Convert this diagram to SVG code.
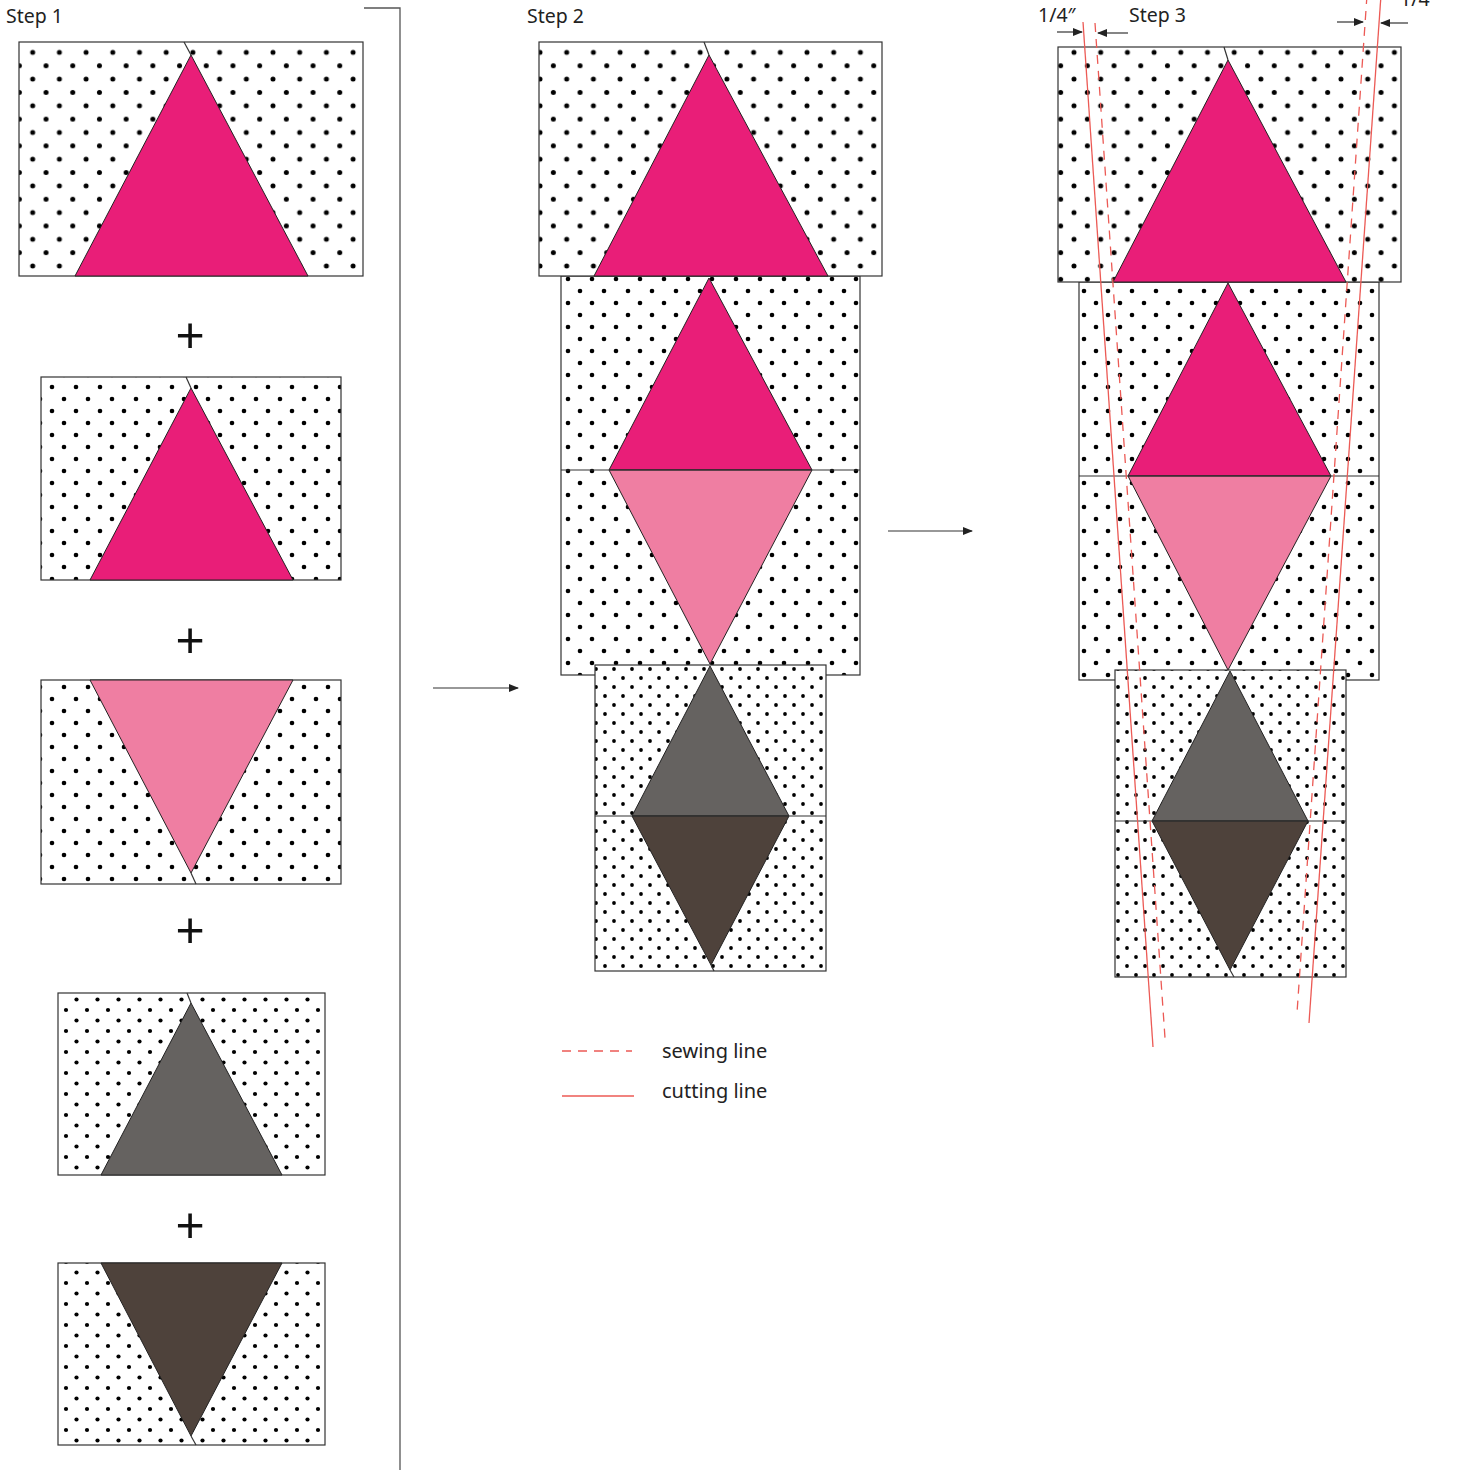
<svg xmlns="http://www.w3.org/2000/svg" width="1459" height="1470" viewBox="0 0 1459 1470">
<style>
text{font-family:"Noto Sans","Open Sans","Liberation Sans",sans-serif;fill:#222}
.lbl{font-size:19.5px}
.leg{font-size:20px}
.plus{font-family:"Liberation Sans",sans-serif;font-size:50px;text-anchor:middle;fill:#111}
.blk{stroke:#333;stroke-width:1.2}
.tri{stroke:#222;stroke-width:1}
.pk{fill:#e91e78}
.lp{fill:#ef7ea2}
.gy{fill:#656260}
.br{fill:#4e423b}
.seam{stroke:#333;stroke-width:1.2;fill:none}
.cut{stroke:#ec5a55;stroke-width:1.3;fill:none}
.sew{stroke:#ec5a55;stroke-width:1.3;fill:none;stroke-dasharray:9,7}
.arr{stroke:#333;stroke-width:1.2;fill:none}
</style>
<defs>
<pattern id="d27" patternUnits="userSpaceOnUse" width="26.7" height="26.7" x="6" y="-1"><rect width="26.7" height="26.7" fill="#fff"/><circle cx="13.35" cy="13.35" r="2.5" fill="#000"/><circle cx="0" cy="0" r="2.5" fill="#000"/><circle cx="26.7" cy="0" r="2.5" fill="#000"/><circle cx="0" cy="26.7" r="2.5" fill="#000"/><circle cx="26.7" cy="26.7" r="2.5" fill="#000"/></pattern>
<pattern id="d24" patternUnits="userSpaceOnUse" width="24" height="24" x="4" y="3"><rect width="24" height="24" fill="#fff"/><circle cx="12" cy="12" r="2.3" fill="#000"/><circle cx="0" cy="0" r="2.3" fill="#000"/><circle cx="24" cy="0" r="2.3" fill="#000"/><circle cx="0" cy="24" r="2.3" fill="#000"/><circle cx="24" cy="24" r="2.3" fill="#000"/></pattern>
<pattern id="d21" patternUnits="userSpaceOnUse" width="21" height="21" x="3" y="2"><rect width="21" height="21" fill="#fff"/><circle cx="10.5" cy="10.5" r="2.1" fill="#000"/><circle cx="0" cy="0" r="2.1" fill="#000"/><circle cx="21" cy="0" r="2.1" fill="#000"/><circle cx="0" cy="21" r="2.1" fill="#000"/><circle cx="21" cy="21" r="2.1" fill="#000"/></pattern>
<pattern id="d18" patternUnits="userSpaceOnUse" width="18" height="18" x="2" y="3"><rect width="18" height="18" fill="#fff"/><circle cx="9" cy="9" r="1.9" fill="#000"/><circle cx="0" cy="0" r="1.9" fill="#000"/><circle cx="18" cy="0" r="1.9" fill="#000"/><circle cx="0" cy="18" r="1.9" fill="#000"/><circle cx="18" cy="18" r="1.9" fill="#000"/></pattern>
<marker id="ah" markerWidth="10" markerHeight="8" refX="9" refY="4" orient="auto" markerUnits="userSpaceOnUse"><path d="M0,0 L10,4 L0,8 Z" fill="#222"/></marker>
</defs>

<g id="labels">
<text class="lbl" x="6" y="23">Step 1</text>
<text class="lbl" x="527" y="23">Step 2</text>
<text class="lbl" x="1129" y="22">Step 3</text>
<text class="lbl" x="1038" y="22">1/4″</text>
<text class="lbl" x="1400" y="6">1/4</text>
</g>

<g id="divider"><path d="M364,8 H400 V1470" stroke="#555" stroke-width="1.3" fill="none"/></g>

<!-- STEP 1 -->
<g id="s1-a">
<rect class="blk" x="19" y="42" width="344" height="234" fill="url(#d27)"/>
<polygon class="tri pk" points="191,55 75,276 308,276"/>
<line class="seam" x1="184" y1="42" x2="191" y2="55"/>
</g>
<g id="s1-plus1"><text class="plus" x="190" y="352">+</text></g>
<g id="s1-b">
<rect class="blk" x="41" y="377" width="300" height="203" fill="url(#d24)"/>
<polygon class="tri pk" points="191,388 90,580 293,580"/>
<line class="seam" x1="186" y1="377" x2="191" y2="388"/>
</g>
<g id="s1-plus2"><text class="plus" x="190" y="657">+</text></g>
<g id="s1-c">
<rect class="blk" x="41" y="680" width="300" height="204" fill="url(#d24)"/>
<polygon class="tri lp" points="90,680 293,680 191,873"/>
<line class="seam" x1="191" y1="873" x2="196" y2="884"/>
</g>
<g id="s1-plus3"><text class="plus" x="190" y="947">+</text></g>
<g id="s1-d">
<rect class="blk" x="58" y="993" width="267" height="182" fill="url(#d21)"/>
<polygon class="tri gy" points="191,1003 101,1175 282,1175"/>
<line class="seam" x1="187" y1="993" x2="191" y2="1003"/>
</g>
<g id="s1-plus4"><text class="plus" x="190" y="1242">+</text></g>
<g id="s1-e">
<rect class="blk" x="58" y="1263" width="267" height="182" fill="url(#d21)"/>
<polygon class="tri br" points="101,1263 282,1263 191,1436"/>
<line class="seam" x1="191" y1="1436" x2="196" y2="1445"/>
</g>

<!-- STEP 2 -->
<g id="s2-mid">
<rect class="blk" x="561" y="276" width="299" height="399" fill="url(#d24)"/>
<polygon class="tri pk" points="709,278 609,470 812,470"/>
<polygon class="tri lp" points="609,470 812,470 710,664"/>
<line class="seam" x1="561" y1="470" x2="860" y2="470"/>
</g>
<g id="s2-top">
<rect class="blk" x="539" y="42" width="343" height="234" fill="url(#d27)"/>
<polygon class="tri pk" points="709,55 594,276 828,276"/>
<line class="seam" x1="704" y1="42" x2="709" y2="55"/>
</g>
<g id="s2-bot">
<rect class="blk" x="595" y="665" width="231" height="306" fill="url(#d18)"/>
<polygon class="tri gy" points="710,666 632,816 789,816"/>
<polygon class="tri br" points="632,816 789,816 711,965"/>
<line class="seam" x1="595" y1="816" x2="826" y2="816"/>
<line class="seam" x1="711" y1="965" x2="714" y2="971"/>
</g>

<!-- STEP 3 -->
<g id="s3-mid">
<rect class="blk" x="1079" y="282" width="300" height="398" fill="url(#d24)"/>
<polygon class="tri pk" points="1228,283 1128,476 1331,476"/>
<polygon class="tri lp" points="1128,476 1331,476 1228,670"/>
<line class="seam" x1="1079" y1="476" x2="1379" y2="476"/>
</g>
<g id="s3-top">
<rect class="blk" x="1058" y="47" width="343" height="235" fill="url(#d27)"/>
<polygon class="tri pk" points="1228,60 1113,282 1346,282"/>
<line class="seam" x1="1224" y1="47" x2="1228" y2="60"/>
</g>
<g id="s3-bot">
<rect class="blk" x="1115" y="670" width="231" height="307" fill="url(#d18)"/>
<polygon class="tri gy" points="1230,671 1152,821 1308,821"/>
<polygon class="tri br" points="1152,821 1308,821 1230,970"/>
<line class="seam" x1="1115" y1="821" x2="1346" y2="821"/>
<line class="seam" x1="1230" y1="970" x2="1234" y2="977"/>
</g>

<g id="guides">
<line class="cut" x1="1083" y1="22" x2="1153" y2="1047"/>
<line class="sew" x1="1095" y1="23" x2="1165" y2="1038"/>
<line class="cut" x1="1381" y1="-5" x2="1309" y2="1023"/>
<line class="sew" x1="1367" y1="-5" x2="1297" y2="1013"/>
</g>

<g id="connectors">
<line class="arr" x1="433" y1="688" x2="518" y2="688" marker-end="url(#ah)"/>
<line class="arr" x1="888" y1="531" x2="972" y2="531" marker-end="url(#ah)"/>
<line class="arr" x1="1057" y1="32" x2="1082" y2="32" marker-end="url(#ah)"/>
<line class="arr" x1="1128" y1="33" x2="1098" y2="33" marker-end="url(#ah)"/>
<line class="arr" x1="1337" y1="22" x2="1363" y2="22" marker-end="url(#ah)"/>
<line class="arr" x1="1408" y1="23" x2="1381" y2="23" marker-end="url(#ah)"/>
</g>

<g id="legend">
<line class="sew" x1="562" y1="1051" x2="632" y2="1051"/>
<line class="cut" x1="562" y1="1096" x2="634" y2="1096"/>
<text class="leg" x="662" y="1058">sewing line</text>
<text class="leg" x="662" y="1098">cutting line</text>
</g>
</svg>
